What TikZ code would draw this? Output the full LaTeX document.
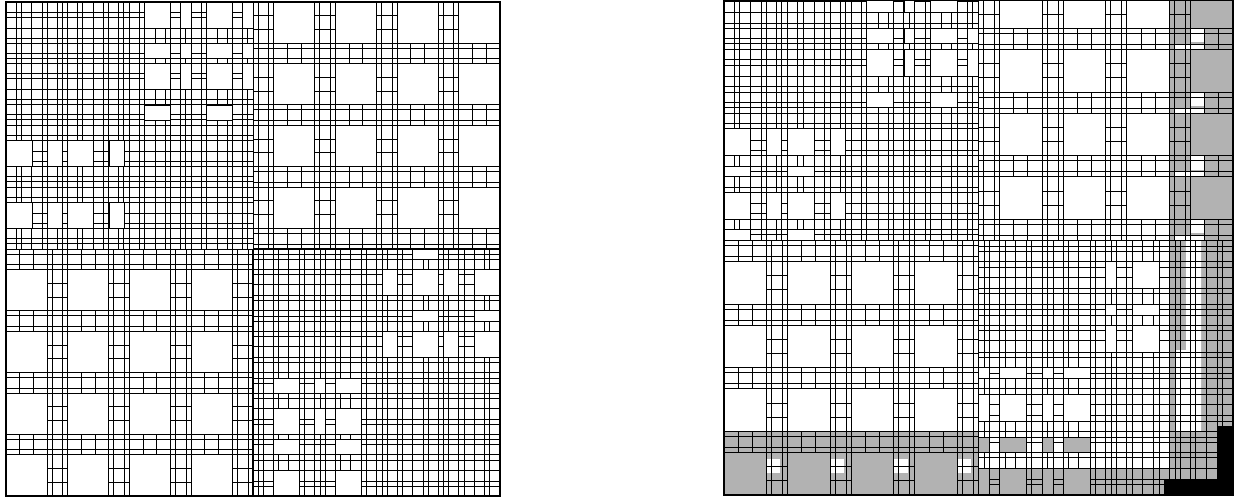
\documentclass[tikz,border=0pt]{standalone}
\usepackage{tikz}

\tikzset{
  tile/.style={draw=black, line width=0.5pt},
  patch/.style={tile, fill=white},
  gpatch/.style={tile, fill=black!30},
  shade/.style={fill=black!30},
  blank/.style={fill=white},
  ink/.style={fill=black},
  rim/.style={draw=black, line width=0.6pt}
}

% coarse quadrant: 4x4 cells, big squares with split strips
% #4/#5 = 1 when the strip comes before the big square
\newcommand\coarse[5]{%
  \pgfmathsetmacro\qdx{(1-#4)*2/3}%
  \pgfmathsetmacro\qdy{(1-#5)*2/3}%
  \pgfmathsetmacro\qbx{#4/3}%
  \pgfmathsetmacro\qby{#5/3}%
  \foreach \ci in {0,...,3}{%
    \foreach \co in {0,0.081,0.253,0.333}{%
      \draw[tile] ({#1+(\ci+\qdx+\co)*#3}, #2) -- ++(0,4*#3);
      \draw[tile] (#1, {#2+(\ci+\qdy+\co)*#3}) -- ++(4*#3,0);
    }%
    \foreach \cj in {0,...,3}{%
      \foreach \cf in {0.222,0.444}{%
        \draw[tile] ({#1+(\ci+\qbx+\cf)*#3}, {#2+(\cj+\qdy)*#3}) -- ++(0,#3/3);
        \draw[tile] ({#1+(\ci+\qdx)*#3}, {#2+(\cj+\qby+\cf)*#3}) -- ++(#3/3,0);
      }}%
  }%
  \draw[tile] (#1,#2) rectangle ++(4*#3,4*#3);
}
% fine quadrant: dense grid, eight lines per cell
\newcommand\fine[3]{%
  \foreach \ci in {0,...,3}{%
    \foreach \co in {0,0.162,0.243,0.421,0.583,0.667,0.829,0.910}{%
      \draw[tile] ({#1+(\ci+\co)*#3}, #2) -- ++(0,4*#3);
      \draw[tile] (#1, {#2+(\ci+\co)*#3}) -- ++(4*#3,0);
    }}%
  \draw[tile] (#1,#2) rectangle ++(4*#3,4*#3);
}

\begin{document}
\begin{tikzpicture}[x=0.5pt, y=-0.5pt]
\useasboundingbox (0,0) rectangle (1239,500);

% left panel
\fine{6}{2}{61.75}
\coarse{253}{2}{61.75}{1}{0}
\coarse{6}{249}{61.75}{0}{1}
\begin{scope}[shift={(500,496)}, xscale=-1, yscale=-1]
  \fine{0}{0}{61.75}
\end{scope}
\foreach \xa/\ya/\xb/\yb in {
    144.5/2/170.7/28, 180.7/2/191.25/28, 206.25/2/232.5/28, 242.5/2/253/28,
    144.5/43.2/170.7/58.2, 180.7/43.2/191.25/58.2, 206.25/43.2/232.5/58.2, 242.5/43.2/253/58.2,
    144.5/63.75/170.7/89.75, 180.7/63.75/191.25/89.75, 206.25/63.75/232.5/89.75,
    242.5/63.75/253/89.75,
    144.5/105/170.7/120, 206.25/105/232.5/120,
    6/140.5/32/166.7, 47.2/140.5/62.2/166.7, 67.75/140.5/93.75/166.7, 109/140.5/124/166.7,
    6/202.25/32/228.5, 47.2/202.25/62.2/228.5, 67.75/202.25/93.75/228.5, 109/202.25/124/228.5,
    412.25/249/438.25/259.5,
    382/269.5/397/295.75, 412.25/269.5/438.25/295.75, 443.8/269.5/458.8/295.75,
    474/269.5/500/295.75,
    412.25/310.75/438.25/321.3, 474/310.75/500/321.3,
    382/331.3/397/357.5, 412.25/331.3/438.25/357.5, 443.8/331.3/458.8/357.5,
    474/331.3/500/357.5,
    273.5/378/299.75/393, 314.75/378/325.3/393, 335.3/378/361.5/393,
    273.5/408.25/299.75/434.25, 314.75/408.25/325.3/434.25, 335.3/408.25/361.5/434.25,
    273.5/439.8/299.75/454.8, 335.3/439.8/361.5/454.8,
    273.5/470/299.75/496, 335.3/470/361.5/496}
  \path[patch] (\xa,\ya) rectangle (\xb,\yb);
\path[rim] (6,2) rectangle (500,496);

% right panel
\begin{scope}
  \clip (724,0) rectangle (1233,495);
  \path[shade] (1169.4,0) rectangle (1233,495) (724,431.2) rectangle (1233,495);
  \foreach \cy in {-14, 49.6, 113.2, 176.8} {
    \path[blank] (1190.6,\cy+42.4) rectangle ++(14,14);
    \path[blank] (1175,\cy+58) rectangle (1204,\cy+63.6);
  }
  \path[blank] (1186,240.5) rectangle (1201,350) (1176,350) rectangle (1201,431.2);
  \foreach \cx in {724, 787.6, 851.3, 914.9}
    \path[blank] (\cx+42.4,459) rectangle ++(14,14);
  \path[blank] (978.5,431.2) rectangle (1169.4,468.2);

  \fine{724}{-14}{63.625}
  \coarse{978.5}{-14}{63.625}{1}{0}
  \coarse{724}{240.5}{63.625}{0}{1}
  \begin{scope}[shift={(1233,495)}, xscale=-1, yscale=-1]
    \fine{0}{0}{63.625}
  \end{scope}

  \foreach \xa/\ya/\xb/\yb in {
      866.7/0/893.7/12.8, 904/0/914.9/12.8, 930.3/0/957.3/12.8,
      866.7/28.4/893.7/43.9, 904/28.4/914.9/43.9, 930.3/28.4/957.3/43.9,
      967.6/28.4/978.5/43.9,
      866.7/49.6/893.7/76.4, 904/49.6/914.9/76.4, 930.3/49.6/957.3/76.4,
      967.6/49.6/978.5/76.4,
      866.7/92/893.7/107.5, 930.3/92/957.3/107.5,
      724/128.7/750.8/155.7, 766.4/128.7/781.9/155.7, 787.6/128.7/814.4/155.7,
      830/128.7/845.5/155.7,
      724/166/750.8/176.9, 787.6/166/814.4/176.9,
      724/192.3/750.8/219.3, 766.4/192.3/781.9/219.3, 787.6/192.3/814.4/219.3,
      830/192.3/845.5/219.3,
      724/229.6/750.8/240.5, 787.6/229.6/814.4/240.5,
      1105.75/261.7/1116.7/288.7, 1132.3/261.7/1159.1/288.7,
      1105.75/304.1/1116.7/315, 1132.3/304.1/1159.1/315,
      1105.75/325.3/1116.7/352.3, 1132.3/325.3/1159.1/352.3,
      978.5/367.75/989.4/378.7, 999.7/367.75/1026.7/378.7,
      1042.1/367.75/1053/378.7, 1063.3/367.75/1090.3/378.7,
      978.5/394.3/989.4/421.1, 999.7/394.3/1026.7/421.1,
      1042.1/394.3/1053/421.1, 1063.3/394.3/1090.3/421.1}
    \path[patch] (\xa,\ya) rectangle (\xb,\yb);
  \foreach \xa/\ya/\xb/\yb in {
      978.5/437.1/989.4/452.6, 999.7/437.1/1026.7/452.6,
      1042.1/437.1/1053/452.6, 1063.3/437.1/1090.3/452.6,
      978.5/468.2/989.4/495, 999.7/468.2/1026.7/495,
      1042.1/468.2/1053/495, 1063.3/468.2/1090.3/495}
    \path[gpatch] (\xa,\ya) rectangle (\xb,\yb);
\end{scope}
\path[ink] (1218,426) rectangle (1233,495);
\path[ink] (1164,479) rectangle (1233,495);
\path[rim] (724,0) rectangle (1233,495);
\end{tikzpicture}
\end{document}
